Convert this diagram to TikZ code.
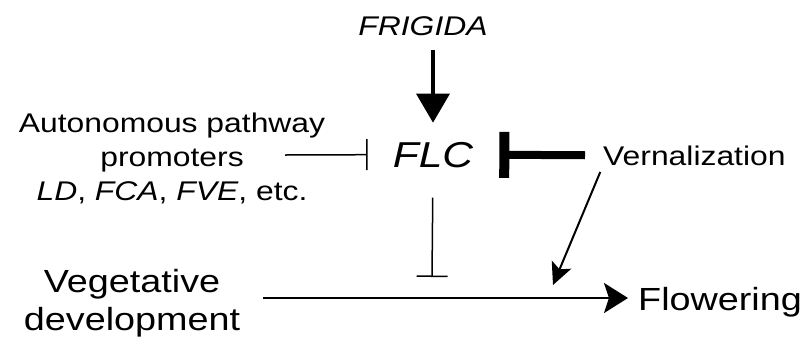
\documentclass[tikz,border=0pt]{standalone}
\usepackage{fontspec}
\setmainfont{Liberation Sans}[FakeStretch=1.18]
\usetikzlibrary{arrows.meta}
\begin{document}
\begin{tikzpicture}[x=1pt,y=-1pt,
  lbl/.style={inner sep=0pt, font=\fontsize{27}{34}\selectfont, align=center},
  biglbl/.style={inner sep=0pt, font=\fontsize{32}{38}\selectfont, align=center},
  genelbl/.style={inner sep=0pt, font=\fontsize{36}{40}\selectfont\itshape},
  promote/.style={line width=3.5pt, -{Triangle[length=29pt,width=33pt]}},
  thinblock/.style={line width=1.5pt, -{Bar[width=31pt]}},
  thickblock/.style={line width=8pt, -{Bar[width=46pt,line width=10pt]}},
  thinarrow/.style={line width=2pt, -{Stealth[length=22pt,width=21pt,inset=5pt]}},
  mainarrow/.style={line width=2.5pt, -{Stealth[length=24pt,width=30pt,inset=5pt]}}]
\useasboundingbox (0,0) rectangle (808,349);

% labels
\node[lbl, anchor=base] (frigida) at (423,35) {\itshape FRIGIDA};
\node[genelbl, anchor=base] (flc) at (433,167) {FLC};
\node[lbl, anchor=north] (auto) at (172,113)
  {Autonomous pathway\\promoters\\\textit{LD}, \textit{FCA}, \textit{FVE}, etc.};
\node[lbl, anchor=base west] (vern) at (603,165) {Vernalization};
\node[biglbl, anchor=north] (veg) at (132,269) {Vegetative\\development};
\node[biglbl, anchor=base west] (flow) at (638,310) {Flowering};

% helper points
\coordinate (autoout) at (285,155);
\coordinate (block) at (432,277);
\coordinate (vtip) at (553,285);
\coordinate (mainy) at (0,298);

% regulatory connections
\draw[promote] (flc |- frigida.south) -- (flc.north)
  [shorten <=15pt, shorten >=19pt];
\draw[thinblock, shorten >=25pt] (autoout) -- (flc.west);
\draw[thickblock, shorten <=18pt, shorten >=26pt] (vern.west) -- (flc.east);
\draw[thinblock, shorten <=30pt] (flc.south) -- (block);
\draw[thinarrow, shorten <=7pt] (vern.south west) -- (vtip);
\draw[mainarrow, shorten <=23pt, shorten >=10pt] (veg.east |- mainy) -- (flow.west |- mainy);
\end{tikzpicture}
\end{document}
